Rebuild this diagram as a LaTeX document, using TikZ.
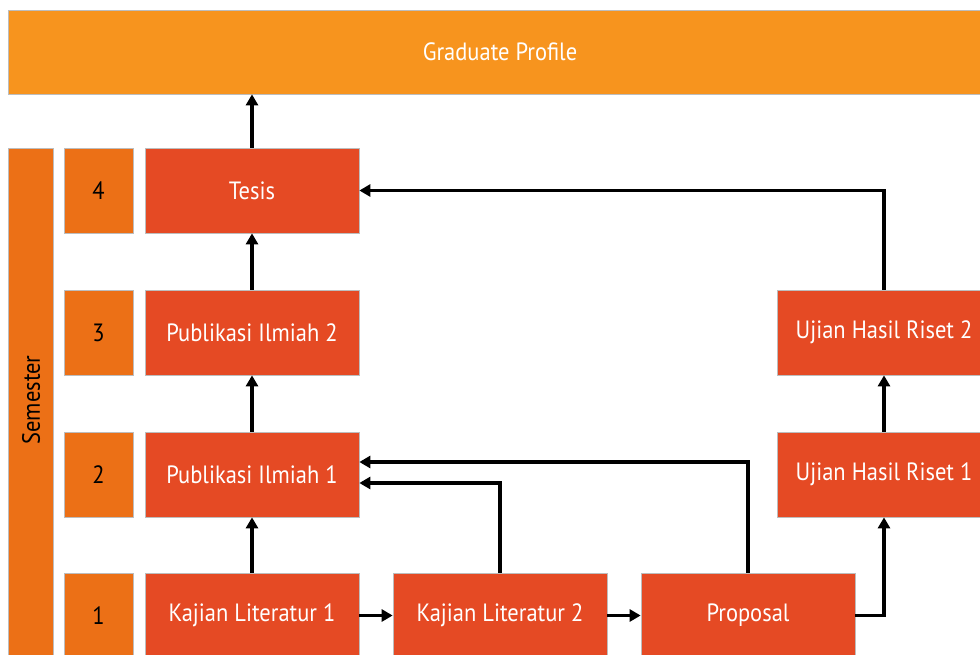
\documentclass[tikz,border=0pt]{standalone}
\usepackage{fontspec}
\setmainfont{PT Sans}[FakeStretch=0.9]
\usetikzlibrary{arrows.meta,calc}
\definecolor{gpcol}{HTML}{F7941E}
\definecolor{semcol}{HTML}{EC7016}
\definecolor{boxcol}{HTML}{E54A24}
\definecolor{edgecol}{HTML}{BDBDBD}
\tikzset{
  lbl/.style={font=\fontsize{25}{25}\selectfont},
  box/.style={rectangle, draw=edgecol, line width=0.7pt, fill=boxcol, text=white,
    minimum width=214pt, minimum height=85pt, inner sep=0pt, lbl},
  numbox/.style={rectangle, draw=edgecol, line width=0.7pt, fill=semcol, text=black,
    minimum width=69pt, minimum height=85pt, inner sep=0pt, lbl},
  arr/.style={line width=3.5pt, -{Triangle[length=11pt,width=12pt]}},
}
\begin{document}
\begin{tikzpicture}[x=1pt,y=-1pt]
\useasboundingbox (0,0) rectangle (980,654);
\begin{scope}
\clip (0,0) rectangle (980,654);
% graduate profile
\node[rectangle, draw=edgecol, line width=0.7pt, fill=gpcol, text=white,
  minimum width=984pt, minimum height=84pt, inner sep=0pt, lbl] (gp) at (500,52) {Graduate Profile};
% semester bar
\node[rectangle, draw=edgecol, line width=0.7pt, fill=semcol, minimum width=45pt,
  minimum height=512pt, inner sep=0pt] (sem) at (30.5,404) {};
\node[rotate=90, text=black, lbl] (semlab) at (31,400) {Semester};
% numbers
\node[numbox] (n4) at (98.5,190.5) {4};
\node[numbox] (n3) at (98.5,332.5) {3};
\node[numbox] (n2) at (98.5,474.5) {2};
\node[numbox] (n1) at (98.5,615.5) {1};
% main boxes
\node[box] (t)  at (252,190.5) {Tesis};
\node[box] (p2) at (252,332.5) {Publikasi Ilmiah 2};
\node[box] (p1) at (252,474.5) {Publikasi Ilmiah 1};
\node[box] (k1) at (252,615.5) {Kajian Literatur 1};
\node[box] (k2) at (500,615.5) {Kajian Literatur 2};
\node[box] (pr) at (748,615.5) {Proposal};
\node[box] (u1) at (884,474.5) {Ujian Hasil Riset 1};
\node[box] (u2) at (884,332.5) {Ujian Hasil Riset 2};
% connectors
\draw[arr] (t.north) -- (t.north |- gp.south);
\draw[arr] (p2.north) -- (t.south);
\draw[arr] (p1.north) -- (p2.south);
\draw[arr] (k1.north) -- (p1.south);
\draw[arr] (k1.east) -- (k2.west);
\draw[arr] (k2.east) -- (pr.west);
\draw[arr] (k2.north) |- ($(p1.east)+(0,8.5)$);
\draw[arr] (pr.north) |- ($(p1.east)+(0,-12.5)$);
\draw[arr] (pr.east) -| (u1.south);
\draw[arr] (u1.north) -- (u2.south);
\draw[arr] (u2.north) |- (t.east);
\end{scope}
\end{tikzpicture}
\end{document}
